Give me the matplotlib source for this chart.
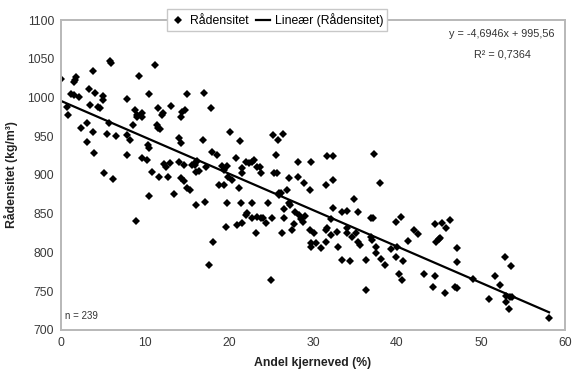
import numpy as np
import matplotlib
matplotlib.use("Agg")
import matplotlib.pyplot as plt
from matplotlib.lines import Line2D

# Andel kjerneved (%) and rådensitet (kg/m3)
kjerneved = [
    0.0, 0.7, 0.8, 1.2, 1.5, 1.6, 1.8, 1.7, 2.2, 2.4, 3.1, 3.1, 3.3, 3.8, 3.5, 4.0, 3.8, 3.9, 4.4, 4.6, 5.0, 5.0, 5.1,
    5.8, 6.0, 5.7, 6.2, 5.5, 6.6, 7.8, 7.9, 8.6, 7.9, 8.2, 8.8, 9.0, 9.1, 9.3, 9.6, 9.7, 8.9, 9.7, 10.2,
    10.5, 10.3, 10.5, 10.8, 11.2, 11.5, 11.4, 11.5, 11.8, 12.0, 12.2, 11.7, 12.5, 12.7, 13.0, 13.1, 13.5, 14.1,
    14.3, 14.3, 14.4, 14.8, 14.1, 14.3, 14.7, 10.5, 14.7, 12.3,
    15.0, 15.0, 15.3, 15.9, 16.1, 16.1, 16.1, 17.0, 17.9, 16.9, 18.0, 18.6, 15.6, 16.4, 17.3, 19.2, 19.8, 19.4,
    19.9, 18.8, 19.4, 17.2, 18.1, 17.6, 19.8, 19.6, 16.2,
    20.1, 21.3, 20.4, 20.8, 21.5, 21.5, 22.0, 22.4, 22.7, 23.0, 23.3, 23.7, 23.8, 21.2, 20.9, 21.5, 21.4, 22.0,
    22.1, 22.7, 22.7, 23.3, 23.8, 24.1, 23.2, 24.4, 24.6, 25.0,
    25.2, 25.8, 26.4, 25.6, 25.3, 25.7, 28.2, 29.8, 28.2, 28.9, 27.1, 26.9, 25.9, 29.6, 25.1, 25.9, 26.2, 26.3,
    26.6, 26.6, 27.1, 27.3, 27.5, 27.7, 27.9, 28.3, 28.6, 28.8, 29.1, 29.6, 29.8, 29.8,
    31.6, 32.4, 31.7, 32.4, 30.1, 30.3, 30.9, 31.5, 31.7, 31.5, 32.1, 32.2, 32.4, 33.0, 32.9, 33.4, 34.0, 34.0,
    34.1, 33.5, 34.4, 34.9, 34.7,
    37.3, 38.0, 35.4, 35.1, 35.4, 35.6, 36.3, 36.3, 36.9, 37.2, 36.9, 37.0, 37.5, 37.5, 38.1, 38.6, 39.3, 39.9,
    39.9, 40.0,
    40.5, 40.7, 40.2, 40.6, 41.3, 42.0, 42.5, 43.2, 44.3, 44.5, 44.5, 45.4, 45.8, 46.3, 44.7, 45.0, 45.1, 45.7,
    46.9, 47.2, 47.1, 47.2, 49.0,
    51.0, 51.7, 52.3, 52.9, 53.6, 53.0, 53.4, 53.7, 53.0, 53.3, 58.1,
]
densitet = [
    1024, 988, 977, 1004, 1003, 1020, 1026, 1023, 1001, 961, 967, 943, 1011, 1034, 990, 1006, 955, 928, 988, 986, 1002, 997, 903,
    1047, 1045, 967, 895, 953, 950, 926, 998, 965, 952, 945, 984, 977, 975, 1028, 980, 975, 841, 922, 919,
    1005, 939, 935, 904, 1042, 986, 965, 961, 959, 977, 980, 897, 910, 897, 915, 989, 875, 948,
    941, 975, 981, 984, 917, 896, 913, 873, 892, 914,
    1005, 883, 880, 913, 904, 917, 861, 1006, 986, 945, 930, 926, 913, 905, 910, 912, 912, 906,
    897, 887, 887, 865, 814, 784, 864, 833, 918,
    956, 944, 894, 922, 909, 903, 917, 915, 917, 919, 910, 910, 903, 883, 835, 838, 864, 848,
    851, 864, 845, 846, 845, 845, 825, 838, 864, 765,
    952, 945, 953, 926, 903, 903, 917, 917, 898, 890, 896, 881, 877, 880, 845, 874, 877, 825,
    856, 845, 864, 861, 829, 837, 852, 848, 843, 839, 847, 829, 812, 807,
    887, 894, 925, 925, 825, 812, 806, 829, 832, 813, 843, 823, 857, 807, 826, 852, 854, 832,
    825, 790, 789, 869, 820,
    927, 890, 852, 825, 813, 810, 790, 752, 845, 845, 820, 816, 807, 799, 792, 784, 805, 839,
    794, 807,
    846, 789, 772, 765, 815, 829, 824, 772, 756, 770, 837, 838, 831, 842, 814, 817, 819, 748,
    756, 754, 788, 806, 766,
    740, 769, 758, 794, 783, 744, 743, 743, 736, 727, 715,
]

# trendline as printed on the chart
slope = -4.6946
intercept = 995.56
r2_text = "0,7364"
n_text = "239"

x_ticks = [0, 10, 20, 30, 40, 50, 60]
y_ticks = [700, 750, 800, 850, 900, 950, 1000, 1050, 1100]

plt.rcParams["font.family"] = ["Liberation Sans", "DejaVu Sans"]

fig = plt.figure(figsize=(5.73, 3.81), dpi=100)
ax = fig.add_axes([61 / 573, 0.134, 504 / 573, 0.8135])

x = np.asarray(kjerneved)
y = np.asarray(densitet)
ax.plot(x, y, linestyle="none", marker="D", markersize=3.6, color="black",
        markeredgewidth=0, label="Rådensitet")

x_fit = np.array([x.min(), x.max()])
ax.plot(x_fit, slope * x_fit + intercept, color="black", linewidth=1.6,
        label="Lineær (Rådensitet)")

ax.set_xlim(0, 60)
ax.set_ylim(700, 1100)
ax.set_xticks(x_ticks)
ax.set_yticks(y_ticks)
ax.tick_params(length=0, labelsize=8.8, labelcolor="#3a3a3a", pad=5)
for side in ["left", "bottom", "top", "right"]:
    ax.spines[side].set_color("#b8b8b8")
    ax.spines[side].set_linewidth(1.4)

ax.set_xlabel("Andel kjerneved (%)", fontsize=8.8, fontweight="bold", color="#222222", labelpad=6)
ax.set_ylabel("Rådensitet (kg/m³)", fontsize=8.8, fontweight="bold", color="#222222", labelpad=6)

sign = "-" if slope < 0 else "+"
eq = f"y = {sign}{abs(slope):.4f}x + {intercept:.2f}".replace(".", ",")
ax.text(0.875, 0.955, eq, transform=ax.transAxes, ha="center", va="center",
        fontsize=7.8, color="#333333")
ax.text(0.875, 0.89, f"R² = {r2_text}", transform=ax.transAxes, ha="center", va="center",
        fontsize=7.8, color="#333333")
ax.text(0.008, 0.045, f"n = {n_text}", transform=ax.transAxes, ha="left", va="center",
        fontsize=7, color="#333333")

handles = [
    Line2D([], [], linestyle="none", marker="D", markersize=3.6, color="black", markeredgewidth=0),
    Line2D([], [], color="black", linewidth=1.6),
]
leg = fig.legend(handles, ["Rådensitet", "Lineær (Rådensitet)"], loc="center",
                 bbox_to_anchor=(277 / 573, 1 - 20 / 381), ncol=2, fontsize=8.8,
                 frameon=True, fancybox=False, handlelength=1.2, handletextpad=0.4,
                 columnspacing=0.6, borderpad=0.3)
leg.get_frame().set_edgecolor("#c8c8c8")
leg.get_frame().set_linewidth(1.0)
leg.get_frame().set_facecolor("white")
leg.get_frame().set_alpha(1)

fig.savefig("out.png", dpi=100)
